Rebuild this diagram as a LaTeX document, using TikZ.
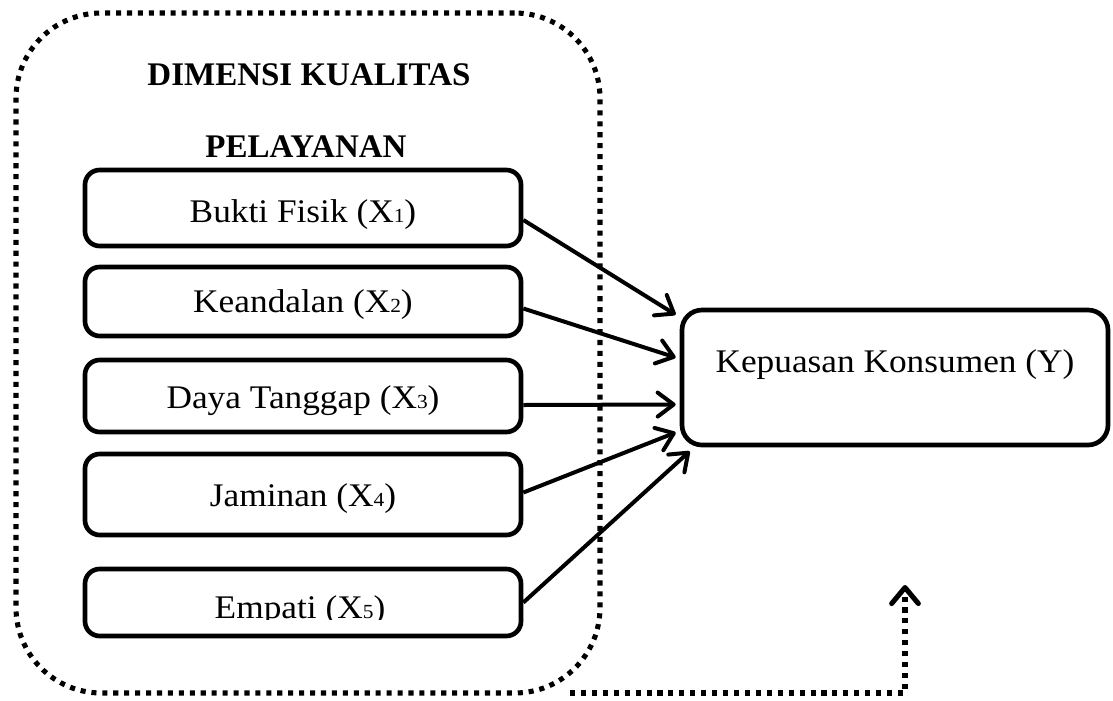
\documentclass[tikz,border=0pt]{standalone}
\usepackage{fontspec}
\setmainfont{Liberation Serif}[FakeStretch=1.07]
\newfontfamily\tfont{Liberation Serif}
\usetikzlibrary{arrows.meta,calc}
\newcommand{\sdig}[1]{{\fontsize{15pt}{15pt}\selectfont #1}}
\begin{document}
\begin{tikzpicture}[x=0.75pt,y=-0.75pt,
  dimbox/.style={draw,line width=3.5pt,rounded corners=11pt,minimum width=327pt,
    inner sep=0pt,anchor=base,font=\fontsize{24.75pt}{28pt}\selectfont},
  kbox/.style={draw,line width=3.5pt,rounded corners=15pt,minimum width=319.5pt,
    inner sep=0pt,anchor=base,font=\fontsize{24.75pt}{28pt}\selectfont},
  titletext/.style={anchor=base,inner sep=0pt,font=\tfont\bfseries\fontsize{24.75pt}{28pt}\selectfont},
  dotline/.style={line width=3.8pt,dash pattern=on 3.8pt off 4.4pt},
  link/.style={line width=3pt,-{Straight Barb[length=12pt,width=18pt,round]}},
  dlink/.style={dotline,-{Straight Barb[length=12pt,width=20pt,round,line width=3.8pt]}}
]
\useasboundingbox (0,0) rectangle (1113,700);

% group frame
\node[draw,dotline,rounded corners=64pt,minimum width=438pt,minimum height=510pt,inner sep=0pt] (grp) at (308,353) {};
\node[titletext] (t1) at (309,85) {DIMENSI KUALITAS};
\node[titletext] (t2) at (306,157) {PELAYANAN};

% dimension boxes
\node[dimbox,text height=39pt,text depth=18pt] (b1) at (303,222) {Bukti Fisik (X\sdig{1})};
\node[dimbox,text height=33.75pt,text depth=18pt] (b2) at (303,312) {Keandalan (X\sdig{2})};
\node[dimbox,text height=36pt,text depth=18pt] (b3) at (303,408) {Daya Tanggap (X\sdig{3})};
\node[dimbox,text height=39pt,text depth=21.75pt] (b4) at (303,506) {Jaminan (X\sdig{4})};
\node[dimbox,text height=36.75pt,text depth=13.5pt] (b5) at (303,618) {};
\begin{scope}
  \clip (0,0) rectangle (1113,619);
  \node[anchor=base,inner sep=0pt,font=\fontsize{24.75pt}{28pt}\selectfont] (t5) at (300,618) {Empati (X\sdig{5})};
\end{scope}

% dependent variable
\node[kbox,text height=46.5pt,text depth=54.75pt] (K) at (895,372) {Kepuasan Konsumen (Y)};

% arrows
\draw[link] ($(b1.east)+(0,12)$) -- ($(K.north west)+(-4,7)$);
\draw[link] ($(b2.east)+(0,7)$) -- ($(K.west)+(-4,-20)$);
\draw[link] ($(b3.east)+(0,9)$) -- ($(K.west)+(-4,27)$);
\draw[link] ($(b4.east)+(0,-2)$) -- ($(K.west)+(-4,55)$);
\draw[link] ($(b5.east)+(0,0)$) -- ($(K.south west)+(10,4)$);

% bottom dotted connector
\coordinate (s) at (570,693);
\coordinate (tip) at (905,585);
\draw[dlink] (s) -| (tip);
\end{tikzpicture}
\end{document}
